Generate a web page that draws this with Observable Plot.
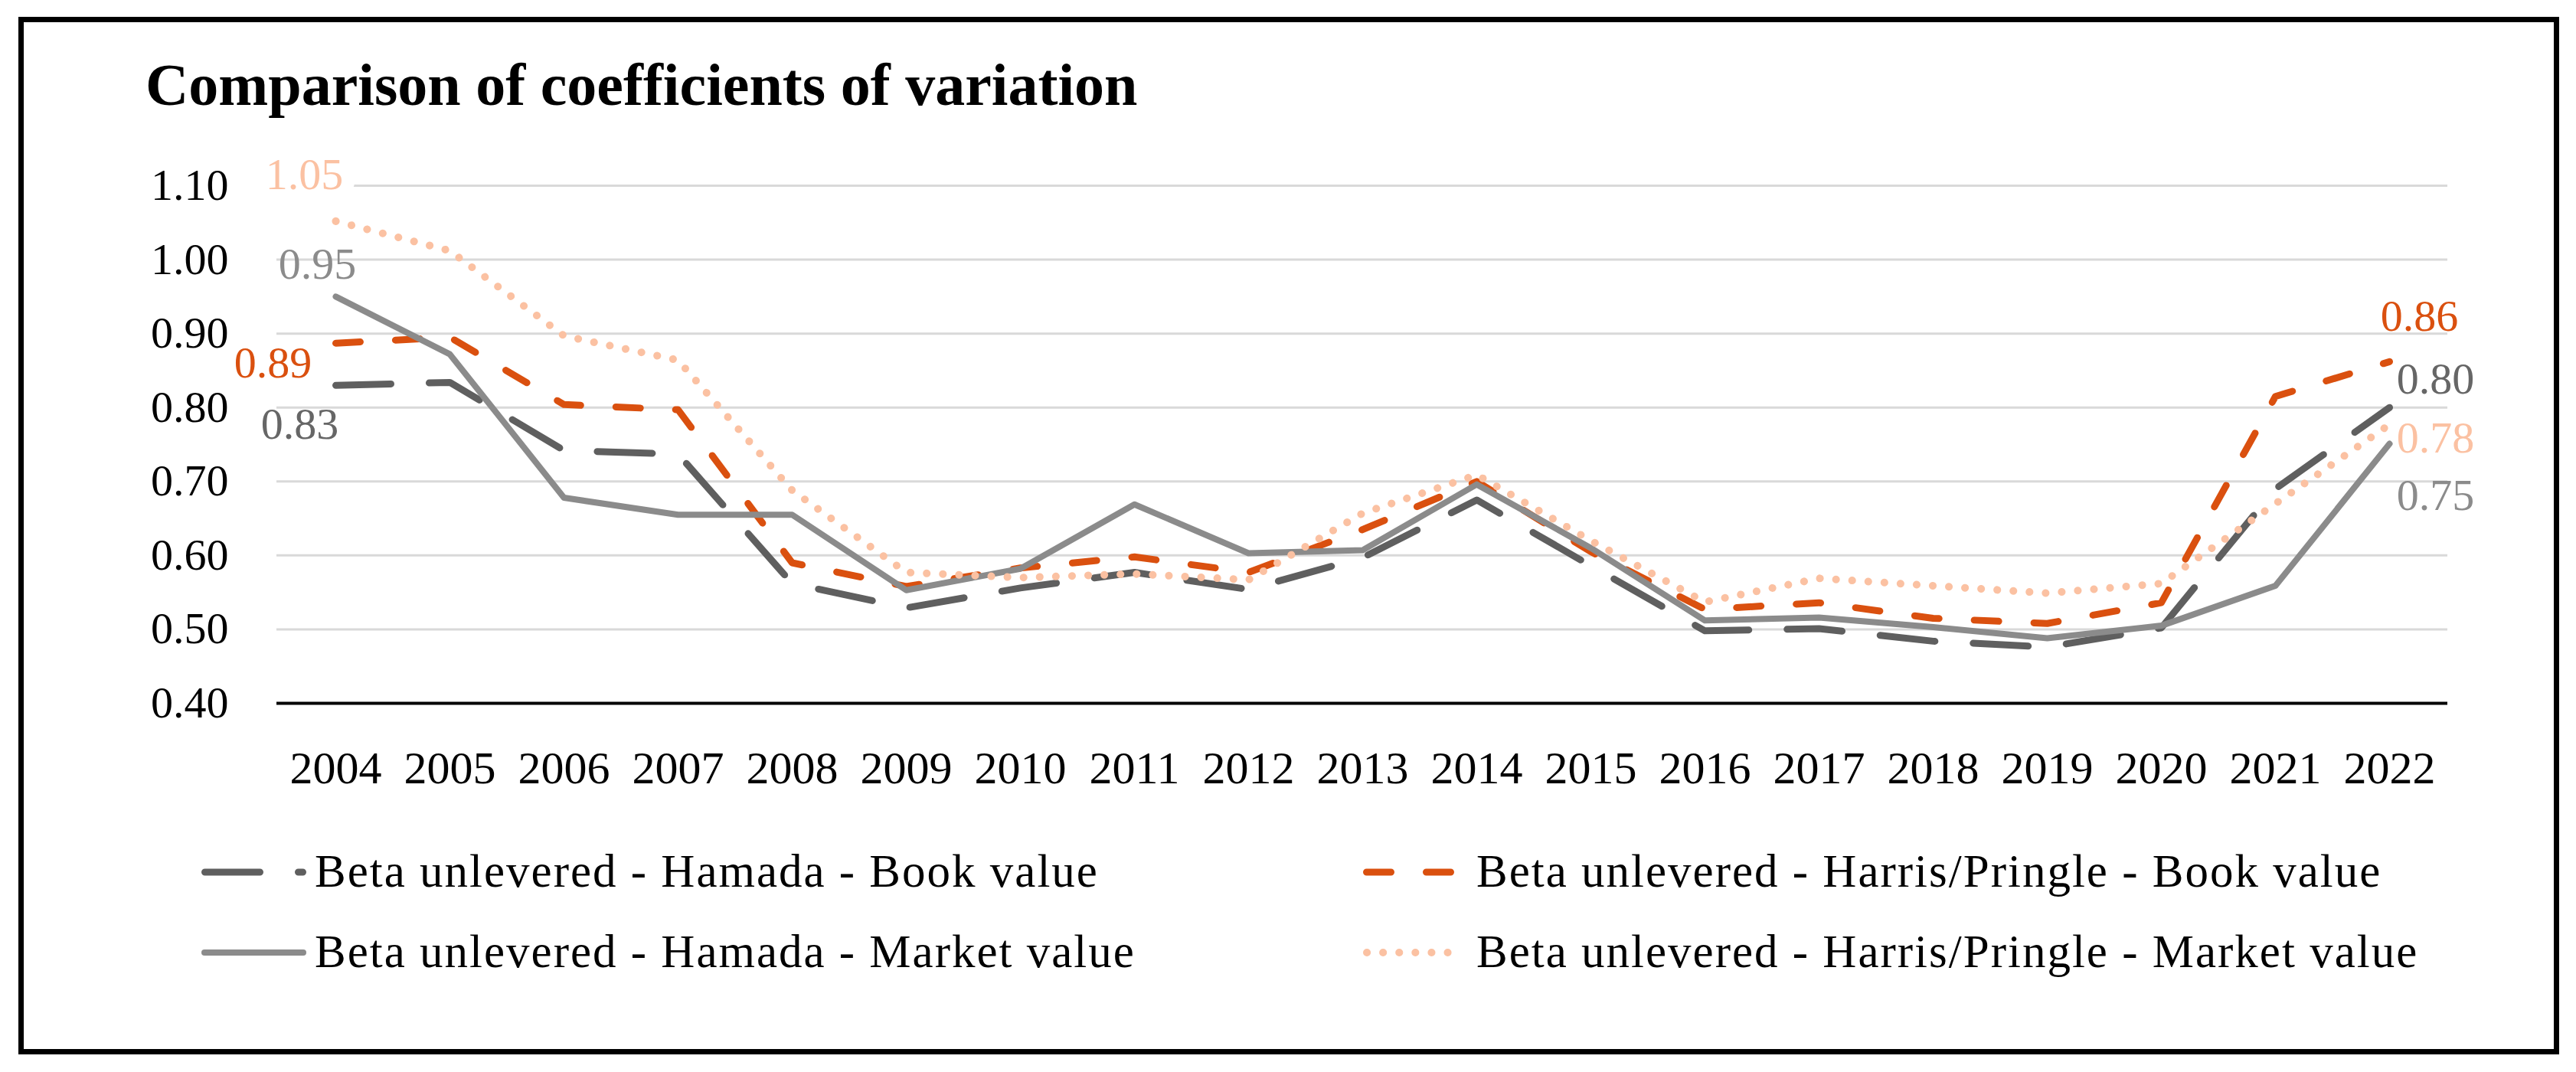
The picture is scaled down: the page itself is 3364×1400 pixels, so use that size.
<!DOCTYPE html>
<html>
<head>
<meta charset="utf-8">
<script src="https://cdn.jsdelivr.net/npm/d3@7"></script>
<script src="https://cdn.jsdelivr.net/npm/@observablehq/plot@0.6"></script>
<style>
  html, body { margin: 0; padding: 0; background: #fff; }
  #page { position: relative; width: 3364px; height: 1400px; background: #fff; overflow: hidden;
          font-family: "Liberation Serif", "DejaVu Serif", serif; }
  #frame { position: absolute; left: 24px; top: 22px; width: 3318px; height: 1355px;
           border: 7px solid #000; box-sizing: border-box; }
  #title { position: absolute; left: 190px; top: 72px; font-size: 78px; line-height: 78px;
           font-weight: bold; color: #000; white-space: nowrap; }
  #chart { position: absolute; left: 0; top: 160px; }
  .leg { position: absolute; font-size: 61px; line-height: 60px; letter-spacing: 2px; color: #000; white-space: nowrap; }
  .sw { position: absolute; }
</style>
</head>
<body>
<div id="page">
  <div id="frame"></div>
  <div id="title">Comparison of coefficients of variation</div>
  <div id="chart"></div>
  <div id="legend"></div>
</div>
<script>
// ---- data ----
const years = ["2004","2005","2006","2007","2008","2009","2010","2011","2012","2013",
               "2014","2015","2016","2017","2018","2019","2020","2021","2022"];
const hamadaBook   = [0.830,0.834,0.742,0.737,0.562,0.529,0.556,0.577,0.554,0.597,
                      0.675,0.586,0.498,0.501,0.484,0.476,0.502,0.690,0.800];
const harrisBook   = [0.887,0.895,0.804,0.797,0.590,0.558,0.583,0.598,0.577,0.635,
                      0.700,0.605,0.527,0.536,0.515,0.508,0.536,0.815,0.862];
const hamadaMarket = [0.950,0.872,0.678,0.655,0.655,0.553,0.582,0.669,0.603,0.607,
                      0.696,0.610,0.512,0.516,0.503,0.488,0.505,0.559,0.751];
const harrisMarket = [1.052,1.012,0.897,0.864,0.688,0.577,0.570,0.575,0.567,0.657,
                      0.709,0.620,0.537,0.569,0.559,0.549,0.562,0.670,0.777];
const seriesNames = ["Beta unlevered - Hamada - Book value",
                     "Beta unlevered - Harris/Pringle - Book value",
                     "Beta unlevered - Hamada - Market value",
                     "Beta unlevered - Harris/Pringle - Market value"];
const yTicks = [0.4, 0.5, 0.6, 0.7, 0.8, 0.9, 1.0, 1.1];

// ---- styles ----
const styles = [
  {values: hamadaBook,   stroke: "#5f5f5f", width: 9,  dash: "72,50", label: "#666666"},
  {values: harrisBook,   stroke: "#da500f", width: 9,  dash: "32,46", label: "#da500f"},
  {values: hamadaMarket, stroke: "#8b8b8b", width: 8,  dash: null,    label: "#8b8b8b"},
  {values: harrisMarket, stroke: "#fbc1a2", width: 10, dash: "0.1,21", label: "#fbc1a2"}
];
const tables = styles.map(s => years.map((yr, i) => ({year: yr, value: s.values[i]})));

const lineMarks = styles.map((s, k) => Plot.line(tables[k], {
  x: "year", y: "value", stroke: s.stroke, strokeWidth: s.width,
  strokeDasharray: s.dash || undefined, strokeLinecap: "round", strokeLinejoin: "round"
}));

function label(k, idx, dx, dy, halo) {
  const d = tables[k][idx];
  const opts = {x: "year", y: "value", text: r => r.value.toFixed(2), dx, dy,
                fill: styles[k].label, fontSize: 58};
  if (halo) Object.assign(opts, {stroke: "white", strokeWidth: 34, paintOrder: "stroke"});
  return Plot.text([d], opts);
}
const last = years.length - 1;
const labelMarks = [
  label(3, 0, -41, -60, true),
  label(2, 0, -24, -42),
  label(1, 0, -82, 26),
  label(0, 0, -47, 51),
  label(1, last, 39, -59),
  label(0, last, 60, -37),
  label(3, last, 60, 18),
  label(2, last, 60, 68)
];

const chart = Plot.plot({
  width: 3364, height: 900,
  marginLeft: 361, marginRight: 168, marginTop: 82, marginBottom: 142,
  x: {type: "point", domain: years, padding: 0.5, label: null},
  y: {domain: [0.4, 1.1], label: null},
  style: {fontFamily: "'Liberation Serif', serif", fontSize: "58px", background: "transparent", overflow: "visible", color: "#000"},
  marks: [
    Plot.ruleY(yTicks.slice(1), {stroke: "#d9d9d9", strokeWidth: 3}),
    Plot.ruleY(yTicks.slice(0, 1), {stroke: "#000", strokeWidth: 4}),
    ...lineMarks,
    ...labelMarks,
    Plot.axisY({ticks: yTicks, tickSize: 0, tickPadding: 63, tickFormat: d => d.toFixed(2), fontSize: 58, label: null}),
    Plot.axisX({tickSize: 0, tickPadding: 62, fontSize: 60, label: null})
  ]
});
document.getElementById("chart").appendChild(chart);

// ---- legend ----
const legend = document.getElementById("legend");
const legPos = [
  {sx: 263, sw: 137, tx: 411, cy: 1139},
  {sx: 1780, sw: 124, tx: 1928, cy: 1139},
  {sx: 263, sw: 137, tx: 411, cy: 1244},
  {sx: 1780, sw: 124, tx: 1928, cy: 1244}
];
styles.forEach((s, k) => {
  const p = legPos[k];
  const svg = d3.create("svg").attr("class", "sw")
    .attr("width", p.sw).attr("height", 20)
    .style("left", p.sx + "px").style("top", (p.cy - 10) + "px");
  svg.append("line").attr("x1", s.width / 2).attr("x2", p.sw - s.width / 2)
    .attr("y1", 10).attr("y2", 10)
    .attr("stroke", s.stroke).attr("stroke-width", s.width)
    .attr("stroke-linecap", "round")
    .attr("stroke-dasharray", s.dash);
  legend.appendChild(svg.node());
  const t = document.createElement("div");
  t.className = "leg";
  t.textContent = seriesNames[k];
  t.style.left = p.tx + "px";
  t.style.top = (p.cy + 19 - 50) + "px";
  legend.appendChild(t);
});
</script>
</body>
</html>
